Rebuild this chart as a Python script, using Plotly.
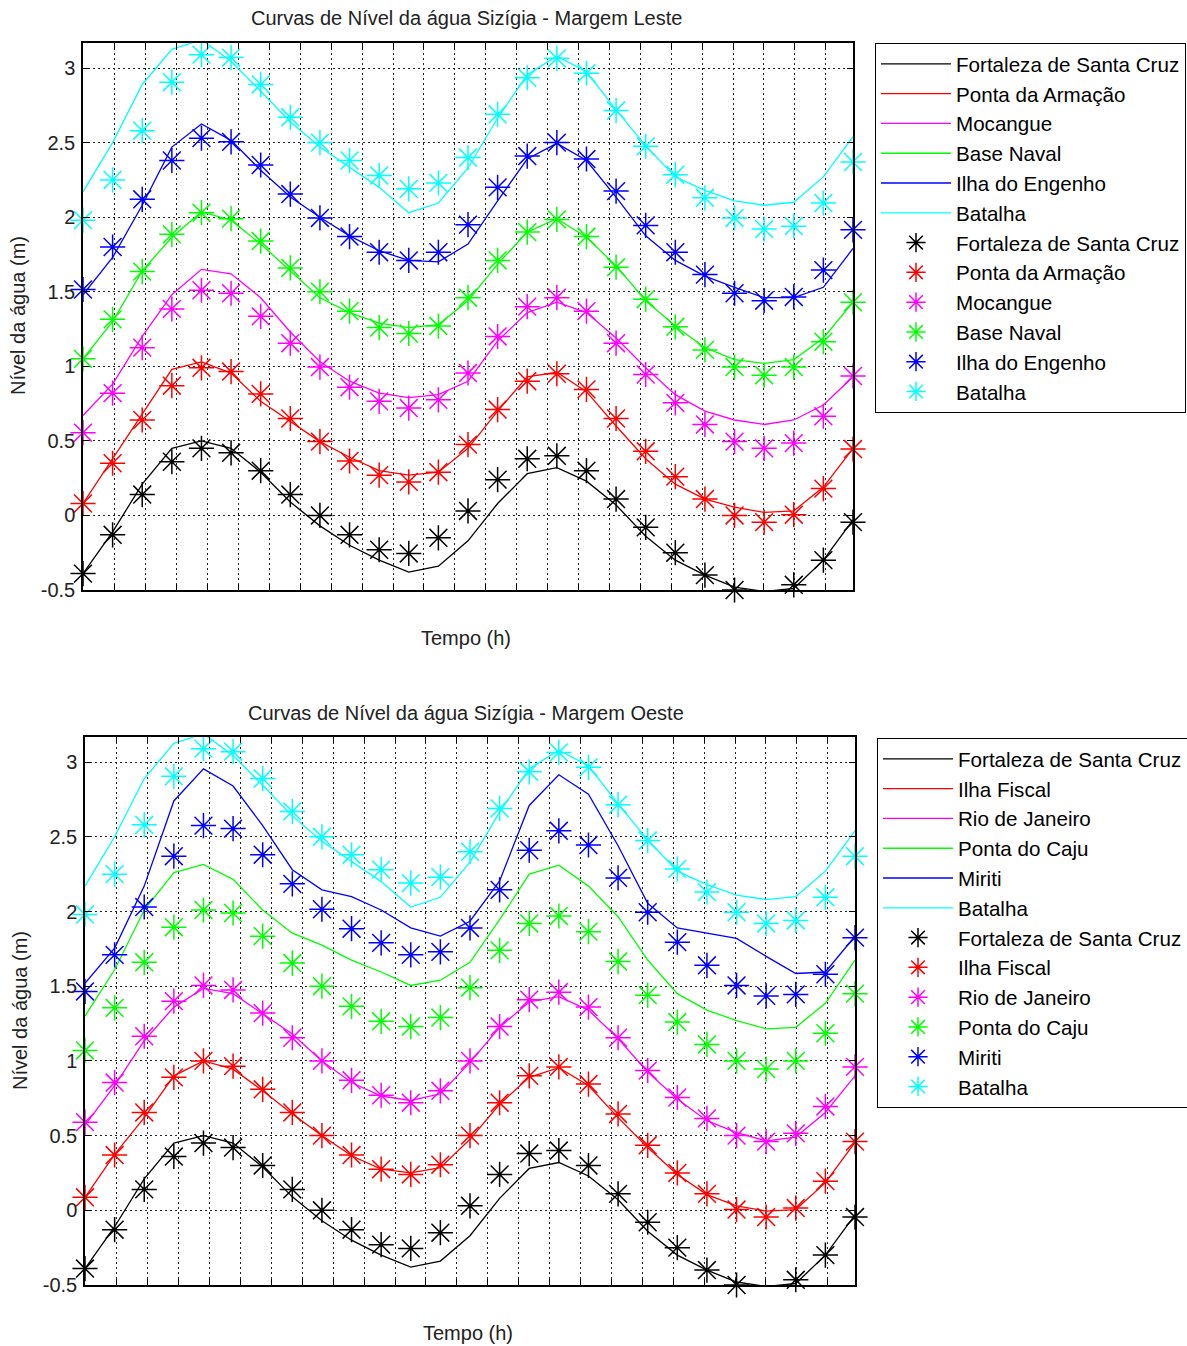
import plotly.graph_objects as go

# ---------------- data ----------------
horas = list(range(27))

# Margem Leste (top)
fortaleza_modelo = [-0.39, -0.11, 0.21, 0.45, 0.50, 0.45, 0.29, 0.09, -0.07, -0.20, -0.30, -0.38, -0.34,
                    -0.17, 0.08, 0.28, 0.32, 0.23, 0.07, -0.14, -0.30, -0.40, -0.48, -0.51, -0.49, -0.30, -0.03]
fortaleza_obs = [-0.39, -0.13, 0.14, 0.36, 0.45, 0.42, 0.30, 0.14, 0.00, -0.13, -0.23, -0.255, -0.15,
                 0.03, 0.24, 0.38, 0.40, 0.30, 0.11, -0.08, -0.25, -0.40, -0.50, -0.53, -0.465, -0.30, -0.045]

armacao_modelo = [0.08, 0.38, 0.685, 0.98, 1.03, 0.955, 0.765, 0.63, 0.495, 0.39, 0.30, 0.27, 0.29,
                  0.45, 0.70, 0.93, 0.96, 0.83, 0.60, 0.38, 0.21, 0.11, 0.055, 0.02, 0.03, 0.19, 0.45]
armacao_obs = [0.08, 0.35, 0.64, 0.87, 0.99, 0.965, 0.815, 0.65, 0.495, 0.365, 0.27, 0.225, 0.29,
               0.475, 0.71, 0.90, 0.95, 0.845, 0.65, 0.43, 0.26, 0.11, 0.0, -0.045, 0.005, 0.18, 0.445]

mocangue_modelo = [0.67, 0.88, 1.20, 1.48, 1.65, 1.62, 1.46, 1.23, 1.03, 0.90, 0.82, 0.79, 0.81,
                   0.90, 1.17, 1.36, 1.43, 1.36, 1.19, 0.99, 0.81, 0.70, 0.64, 0.61, 0.64, 0.74, 0.93]
mocangue_obs = [0.555, 0.82, 1.125, 1.385, 1.51, 1.49, 1.335, 1.155, 0.995, 0.86, 0.765, 0.72, 0.775,
                0.955, 1.20, 1.40, 1.46, 1.37, 1.155, 0.945, 0.755, 0.61, 0.495, 0.45, 0.485, 0.665, 0.935]

base_naval_modelo = [1.05, 1.30, 1.64, 1.865, 2.035, 1.98, 1.82, 1.64, 1.46, 1.36, 1.29, 1.26, 1.28,
                     1.44, 1.685, 1.90, 1.99, 1.865, 1.675, 1.44, 1.27, 1.125, 1.045, 1.02, 1.045, 1.19, 1.43]
base_naval_obs = [1.05, 1.315, 1.635, 1.885, 2.03, 1.99, 1.84, 1.66, 1.50, 1.37, 1.26, 1.22, 1.27,
                  1.46, 1.71, 1.90, 1.985, 1.87, 1.665, 1.45, 1.265, 1.11, 0.995, 0.94, 0.995, 1.165, 1.43]

engenho_modelo = [1.48, 1.73, 2.08, 2.47, 2.625, 2.515, 2.315, 2.135, 2.00, 1.875, 1.775, 1.71, 1.70,
                  1.82, 2.11, 2.39, 2.495, 2.38, 2.135, 1.875, 1.71, 1.605, 1.53, 1.46, 1.46, 1.53, 1.79]
engenho_obs = [1.515, 1.80, 2.12, 2.38, 2.53, 2.505, 2.35, 2.155, 1.995, 1.87, 1.765, 1.71, 1.765,
               1.95, 2.20, 2.41, 2.50, 2.39, 2.175, 1.945, 1.765, 1.615, 1.49, 1.44, 1.465, 1.645, 1.915]

batalha_modelo = [2.17, 2.50, 2.89, 3.125, 3.19, 3.045, 2.845, 2.64, 2.47, 2.335, 2.20, 2.03, 2.095,
                  2.33, 2.665, 2.955, 3.08, 2.975, 2.72, 2.48, 2.27, 2.18, 2.11, 2.08, 2.10, 2.27, 2.54]
batalha_obs = [1.98, 2.25, 2.58, 2.905, 3.09, 3.07, 2.89, 2.67, 2.50, 2.38, 2.28, 2.19, 2.23,
               2.40, 2.69, 2.935, 3.065, 2.965, 2.715, 2.475, 2.285, 2.13, 1.995, 1.92, 1.94, 2.095, 2.37]

# Margem Oeste (bottom)
ilha_fiscal_modelo = [0.087, 0.375, 0.62, 0.90, 1.0, 0.945, 0.80, 0.645, 0.50, 0.365, 0.275, 0.25, 0.285,
                      0.475, 0.71, 0.89, 0.955, 0.835, 0.62, 0.42, 0.24, 0.105, 0.03, -0.005, 0.005, 0.185, 0.455]
ilha_fiscal_obs = [0.087, 0.37, 0.655, 0.89, 1.0, 0.965, 0.81, 0.655, 0.50, 0.37, 0.275, 0.24, 0.305,
                   0.50, 0.72, 0.90, 0.96, 0.845, 0.645, 0.435, 0.25, 0.11, 0.005, -0.045, 0.015, 0.195, 0.46]

rio_modelo = [0.57, 0.835, 1.135, 1.36, 1.485, 1.45, 1.315, 1.18, 1.0, 0.855, 0.765, 0.735, 0.78,
              0.99, 1.225, 1.395, 1.43, 1.34, 1.15, 0.925, 0.745, 0.60, 0.52, 0.465, 0.49, 0.655, 0.90]
rio_obs = [0.59, 0.855, 1.165, 1.40, 1.505, 1.475, 1.32, 1.155, 1.0, 0.87, 0.77, 0.72, 0.80,
           1.0, 1.23, 1.41, 1.46, 1.36, 1.155, 0.935, 0.755, 0.615, 0.50, 0.46, 0.515, 0.695, 0.96]

caju_modelo = [1.30, 1.61, 2.01, 2.26, 2.315, 2.215, 2.01, 1.855, 1.775, 1.675, 1.595, 1.505, 1.54,
               1.66, 1.945, 2.25, 2.31, 2.17, 1.965, 1.675, 1.45, 1.34, 1.27, 1.215, 1.225, 1.385, 1.675]
caju_obs = [1.07, 1.355, 1.66, 1.895, 2.01, 1.99, 1.835, 1.655, 1.50, 1.365, 1.265, 1.23, 1.29,
            1.49, 1.74, 1.92, 1.97, 1.865, 1.665, 1.44, 1.26, 1.11, 1.0, 0.945, 1.0, 1.185, 1.45]

miriti_modelo = [1.52, 1.755, 2.17, 2.74, 2.955, 2.84, 2.575, 2.28, 2.145, 2.10, 2.01, 1.89, 1.835,
                 1.935, 2.205, 2.71, 2.915, 2.785, 2.44, 2.055, 1.89, 1.855, 1.82, 1.70, 1.585, 1.595, 1.835]
miriti_obs = [1.465, 1.71, 2.03, 2.37, 2.575, 2.555, 2.38, 2.185, 2.015, 1.885, 1.79, 1.71, 1.73,
              1.89, 2.145, 2.41, 2.54, 2.445, 2.225, 1.995, 1.795, 1.64, 1.505, 1.435, 1.445, 1.58, 1.825]

y_tick_vals = [-0.5, 0, 0.5, 1, 1.5, 2, 2.5, 3]
y_tick_text = ["-0.5", "0", "0.5", "1", "1.5", "2", "2.5", "3"]

cores = ["#000000", "#FF0000", "#FF00FF", "#00FF00", "#0000FF", "#00FFFF"]

estacoes_leste = ["Fortaleza de Santa Cruz", "Ponta da Armação", "Mocangue", "Base Naval",
                  "Ilha do Engenho", "Batalha"]
modelo_leste = [fortaleza_modelo, armacao_modelo, mocangue_modelo, base_naval_modelo, engenho_modelo, batalha_modelo]
obs_leste = [fortaleza_obs, armacao_obs, mocangue_obs, base_naval_obs, engenho_obs, batalha_obs]

estacoes_oeste = ["Fortaleza de Santa Cruz", "Ilha Fiscal", "Rio de Janeiro", "Ponta do Caju",
                  "Miriti", "Batalha"]
modelo_oeste = [fortaleza_modelo, ilha_fiscal_modelo, rio_modelo, caju_modelo, miriti_modelo, batalha_modelo]
obs_oeste = [fortaleza_obs, ilha_fiscal_obs, rio_obs, caju_obs, miriti_obs, batalha_obs]

# ---------------- layout helpers ----------------
W, H = 1187, 1346
FONT = "Liberation Sans, Arial, Helvetica, sans-serif"

def px_x(p):
    return p / W

def px_y(p):
    return 1 - p / H

top_box = dict(x0=83, x1=853, y0=43, y1=590)
bot_box = dict(x0=85, x1=855, y0=737, y1=1285)

x_grid = [1.08 + k * 1.0434 for k in range(24)]

fig = go.Figure()

def add_panel(nomes, modelos, obs, xa, ya, legend):
    for nome, y, c in zip(nomes, modelos, cores):
        fig.add_trace(go.Scatter(x=horas, y=y, mode="lines", name=nome,
                                 line=dict(color=c, width=1.3),
                                 xaxis=xa, yaxis=ya, legend=legend))
    for nome, y, c in zip(nomes, obs, cores):
        fig.add_trace(go.Scatter(x=horas, y=y, mode="markers", name=nome,
                                 marker=dict(symbol="asterisk-open", size=21, color=c,
                                             line=dict(color=c, width=1.5)),
                                 cliponaxis=False,
                                 xaxis=xa, yaxis=ya, legend=legend))

add_panel(estacoes_leste, modelo_leste, obs_leste, "x", "y", "legend")
add_panel(estacoes_oeste, modelo_oeste, obs_oeste, "x2", "y2", "legend2")

axis_common = dict(showline=True, linecolor="black", linewidth=1.5, mirror="allticks",
                   ticks="inside", ticklen=6, tickcolor="black", tickwidth=1.2,
                   showgrid=True, gridcolor="#222222", gridwidth=1, griddash="2px,3px",
                   zeroline=False, tickfont=dict(family=FONT, size=20, color="#222222"))

def xaxis_cfg(box, anchor):
    d = dict(axis_common)
    d.update(domain=[px_x(box["x0"]), px_x(box["x1"])], range=[0, 26],
             tickvals=x_grid, showticklabels=False, anchor=anchor)
    return d

def yaxis_cfg(box, anchor):
    d = dict(axis_common)
    d.update(domain=[px_y(box["y1"]), px_y(box["y0"])], range=[-0.5, 3.168],
             tickvals=y_tick_vals, ticktext=y_tick_text, anchor=anchor, ticklabelstandoff=2)
    return d

legend_common = dict(xanchor="left", yanchor="top", bordercolor="black", borderwidth=1,
                     bgcolor="white", font=dict(family=FONT, size=20.6, color="black"),
                     traceorder="normal", itemwidth=70, tracegroupgap=0)

fig.update_layout(
    width=W, height=H,
    margin=dict(l=0, r=0, t=0, b=0, autoexpand=False),
    paper_bgcolor="white", plot_bgcolor="white",
    showlegend=True,
    xaxis=xaxis_cfg(top_box, "y"),
    yaxis=yaxis_cfg(top_box, "x"),
    xaxis2=xaxis_cfg(bot_box, "y2"),
    yaxis2=yaxis_cfg(bot_box, "x2"),
    legend=dict(legend_common, x=px_x(875), y=px_y(43)),
    legend2=dict(legend_common, x=px_x(877), y=px_y(738)),
)

ann_font = dict(family=FONT, size=20, color="#222222")
annotations = [
    dict(text="Curvas de Nível da água Sizígia - Margem Leste", x=px_x(466), y=px_y(18)),
    dict(text="Curvas de Nível da água Sizígia - Margem Oeste", x=px_x(466), y=px_y(713)),
    dict(text="Tempo (h)", x=px_x(466), y=px_y(638)),
    dict(text="Tempo (h)", x=px_x(468), y=px_y(1333)),
    dict(text="Nível da água (m)", x=px_x(18), y=px_y(316), textangle=-90),
    dict(text="Nível da água (m)", x=px_x(20), y=px_y(1011), textangle=-90),
]
for a in annotations:
    fig.add_annotation(xref="paper", yref="paper", showarrow=False, font=ann_font,
                       xanchor="center", yanchor="middle", **a)

fig.write_html("out.html",
               config={"displayModeBar": False},
               post_script="document.body.style.margin='0px';document.body.style.overflow='hidden';")
